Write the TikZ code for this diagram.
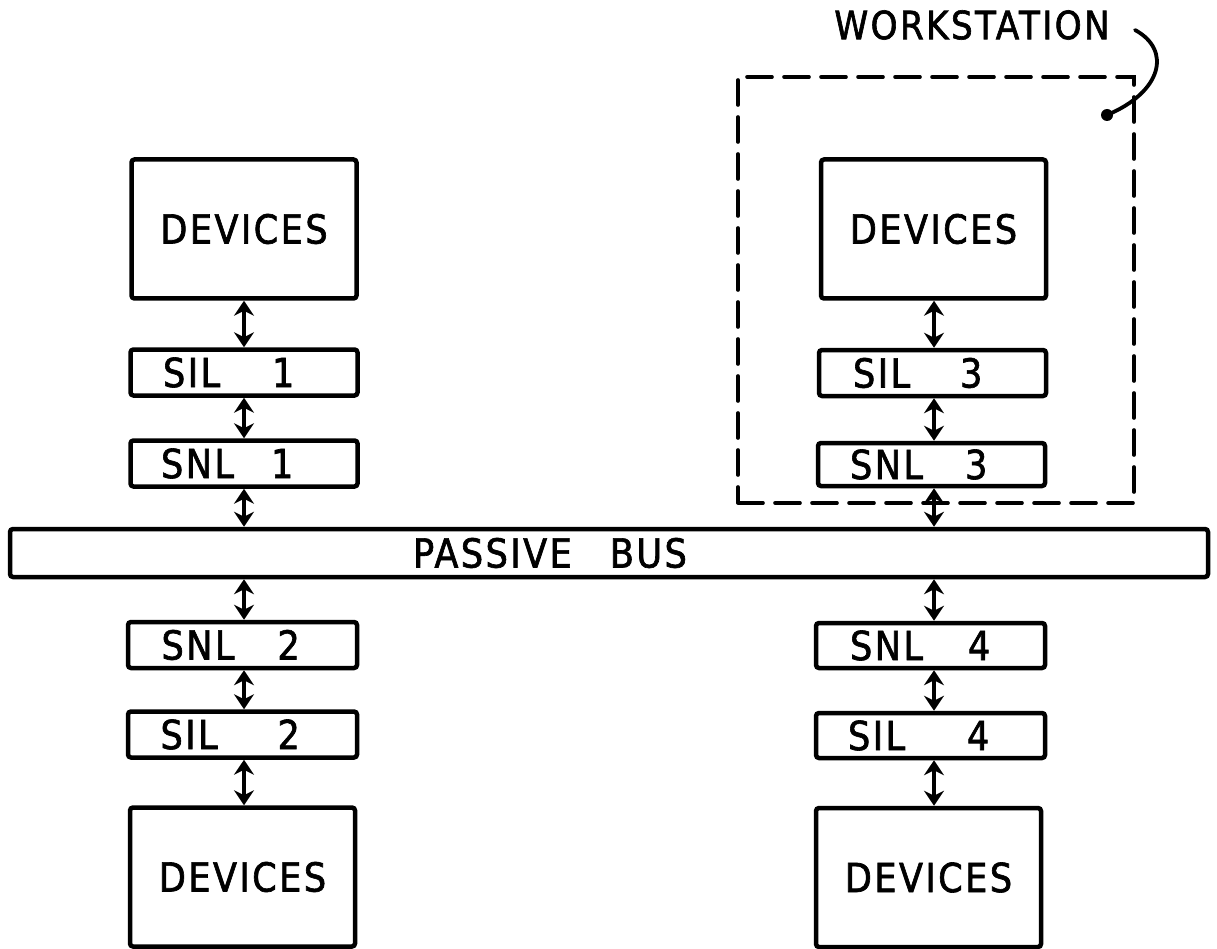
\documentclass[tikz,border=0pt]{standalone}
\usepackage{fontspec}
\setmainfont{DejaVu Sans}[FakeStretch=0.88, LetterSpace=6, FakeBold=1.6]
\usetikzlibrary{arrows.meta}
\begin{document}
\begin{tikzpicture}[x=1pt,y=-1pt,
  every node/.style={font=\fontsize{40}{48}\selectfont},
  box/.style={draw, line width=4.5pt, rounded corners=3pt, inner sep=0pt},
  devbox/.style={box, minimum width=225pt, minimum height=139pt},
  lay/.style={box, minimum width=227pt, minimum height=46pt, align=left},
  arr/.style={line width=4pt, {Stealth[length=15pt,width=20pt,inset=5pt]}-{Stealth[length=15pt,width=20pt,inset=5pt]}},
  ws/.style={draw, line width=3.6pt, dash pattern=on 25pt off 12pt, line cap=round, inner sep=0pt}]
\useasboundingbox (0,0) rectangle (1217,949);

% workstation frame
\node[ws, minimum width=396pt, minimum height=426pt] (wsbox) at (936,290) {};

% left column
\node[devbox] (devA) at (244,229) {DEVICES};
\node[lay, text width=162pt] (sil1) at (244,372.5) {\makebox[109pt][l]{SIL}1};
\node[lay, text width=166pt] (snl1) at (244,463.5) {\makebox[110pt][l]{SNL}1};
\node[lay, text width=162pt, minimum width=229pt] (snl2) at (242.5,645) {\makebox[116pt][l]{SNL}2};
\node[lay, text width=164pt, minimum width=229pt] (sil2) at (242.5,734.5) {\makebox[117pt][l]{SIL}2};
\node[devbox] (devB) at (242.5,877) {DEVICES};

% right column
\node[devbox] (devC) at (933.5,229) {DEVICES};
\node[lay, text width=159pt] (sil3) at (932.5,373) {\makebox[107pt][l]{SIL}3};
\node[lay, text width=163pt, minimum height=43pt] (snl3) at (931.5,464.5) {\makebox[115pt][l]{SNL}3};
\node[lay, text width=161pt, minimum width=229pt, minimum height=45pt] (snl4) at (930.5,645.5) {\makebox[118pt][l]{SNL}4};
\node[lay, text width=165pt, minimum width=229pt, minimum height=45pt] (sil4) at (930.5,735.5) {\makebox[119pt][l]{SIL}4};
\node[devbox] (devD) at (928.5,877.5) {DEVICES};

% bus
\node[box, minimum width=1198pt, minimum height=48pt, text width=392pt, align=left] (bus) at (609,553) {PASSIVE\hspace{38pt}BUS};

% label
\node[font=\fontsize{39}{46}\selectfont] (wslabel) at (972,25) {WORKSTATION};

% connectors
\coordinate (colL) at (244,0);
\coordinate (colR) at (934,0);
\draw[arr] (colL |- devA.south) -- (colL |- sil1.north);
\draw[arr] (colL |- sil1.south) -- (colL |- snl1.north);
\draw[arr] (colL |- snl1.south) -- (colL |- bus.north);
\draw[arr] (colL |- bus.south) -- (colL |- snl2.north);
\draw[arr] (colL |- snl2.south) -- (colL |- sil2.north);
\draw[arr] (colL |- sil2.south) -- (colL |- devB.north);
\draw[arr] (colR |- devC.south) -- (colR |- sil3.north);
\draw[arr] (colR |- sil3.south) -- (colR |- snl3.north);
\draw[arr] (colR |- snl3.south) -- (colR |- bus.north);
\draw[arr] (colR |- bus.south) -- (colR |- snl4.north);
\draw[arr] (colR |- snl4.south) -- (colR |- sil4.north);
\draw[arr] (colR |- sil4.south) -- (colR |- devD.north);

% leader
\coordinate (lead) at (1135,30);
\coordinate (wsdot) at (1107,115);
\draw[line width=3.8pt, line cap=round] (lead) .. controls (1172,50) and (1162,92) .. (wsdot);
\fill (wsdot) circle (6pt);
\end{tikzpicture}
\end{document}
